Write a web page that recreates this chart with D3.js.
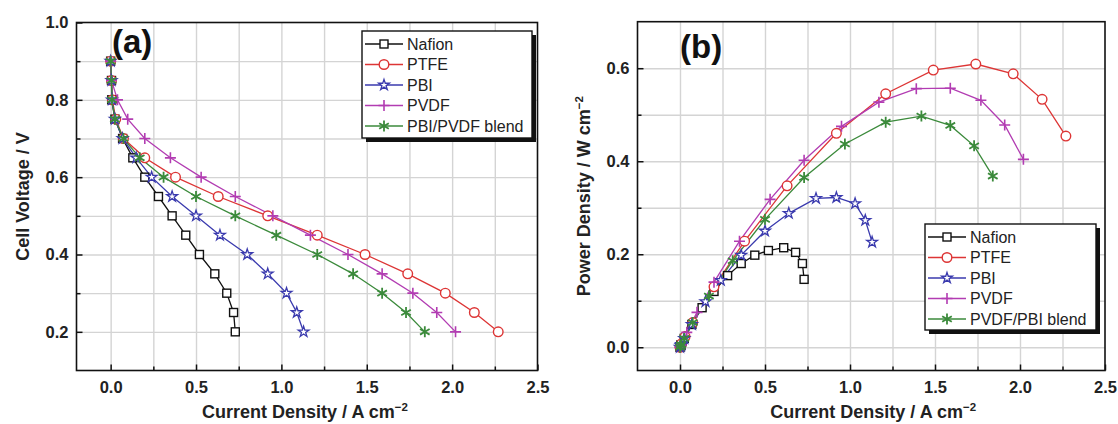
<!DOCTYPE html>
<html>
<head>
<meta charset="utf-8">
<script src="https://cdn.jsdelivr.net/npm/d3@7"></script>
<style>
  body { margin: 0; background: #fff; }
  text { font-family: "Liberation Sans", Arial, sans-serif; }
  .tick text { font-weight: bold; font-size: 16.5px; fill: #222; }
</style>
</head>
<body>
<div id="vis"></div>
<script>
// data
const voltage = [0.9, 0.85, 0.8, 0.75, 0.7, 0.65, 0.6, 0.55, 0.5, 0.45, 0.4, 0.35, 0.3, 0.25, 0.2];

const nafionCurrent = [0, 0.005, 0.006, 0.025, 0.07, 0.13, 0.2, 0.28, 0.36, 0.44, 0.52, 0.61, 0.68, 0.72, 0.73];
const ptfeCurrent   = [0, 0.005, 0.01, 0.03, 0.075, 0.2, 0.38, 0.63, 0.92, 1.21, 1.49, 1.74, 1.96, 2.13, 2.27];
const pbiCurrent    = [0, 0.005, 0.008, 0.025, 0.07, 0.15, 0.24, 0.36, 0.5, 0.64, 0.8, 0.92, 1.03, 1.09, 1.13];
const pvdfCurrent   = [0, 0.005, 0.04, 0.1, 0.2, 0.35, 0.53, 0.73, 0.95, 1.17, 1.39, 1.59, 1.77, 1.91, 2.02];
const blendCurrent  = [0, 0.005, 0.008, 0.025, 0.075, 0.17, 0.31, 0.5, 0.73, 0.97, 1.21, 1.42, 1.59, 1.73, 1.84];

const nafionPower = [0, 0.004, 0.005, 0.019, 0.049, 0.085, 0.12, 0.154, 0.18, 0.198, 0.208, 0.214, 0.204, 0.18, 0.146];
const ptfePower   = [0, 0.004, 0.008, 0.023, 0.053, 0.13, 0.228, 0.347, 0.46, 0.545, 0.596, 0.609, 0.588, 0.533, 0.454];
const pbiPower    = [0, 0.004, 0.006, 0.019, 0.049, 0.098, 0.144, 0.198, 0.25, 0.288, 0.32, 0.322, 0.309, 0.273, 0.226];
const pvdfPower   = [0, 0.004, 0.032, 0.075, 0.14, 0.228, 0.318, 0.402, 0.475, 0.527, 0.556, 0.557, 0.531, 0.478, 0.404];
const blendPower  = [0, 0.004, 0.006, 0.019, 0.053, 0.11, 0.186, 0.275, 0.365, 0.437, 0.484, 0.497, 0.477, 0.433, 0.368];

const legendNamesA = ["Nafion", "PTFE", "PBI", "PVDF", "PBI/PVDF blend"];
const legendNamesB = ["Nafion", "PTFE", "PBI", "PVDF", "PVDF/PBI blend"];

const xTicks = [0, 0.5, 1.0, 1.5, 2.0, 2.5];
const xMinor = [0.25, 0.75, 1.25, 1.75, 2.25];
const yTicksA = [0.2, 0.4, 0.6, 0.8, 1.0];
const yMinorA = [0.3, 0.5, 0.7, 0.9];
const yTicksB = [0.0, 0.2, 0.4, 0.6];
const yMinorB = [0.1, 0.3, 0.5];

const styles = [
    {color: "#111111", marker: "square"},
    {color: "#dd3535", marker: "circle"},
    {color: "#3a3aae", marker: "star"},
    {color: "#b23cb2", marker: "plus"},
    {color: "#3b8a3b", marker: "asterisk"}
];

const width = 1118;
const height = 424;

const svg = d3.select("#vis").append("svg")
    .attr("width", width)
    .attr("height", height);

function drawMarker(sel, kind, color) {
    if (kind === "square") {
        sel.append("rect").attr("x", -4).attr("y", -4).attr("width", 8).attr("height", 8)
            .attr("fill", "#fff").attr("stroke", color).attr("stroke-width", 1.4);
    } else if (kind === "circle") {
        sel.append("circle").attr("r", 4.8)
            .attr("fill", "#fff").attr("stroke", color).attr("stroke-width", 1.4);
    } else if (kind === "star") {
        sel.append("path").attr("d", d3.symbol().type(d3.symbolStar).size(36)())
            .attr("fill", "#fff").attr("stroke", color).attr("stroke-width", 1.3);
    } else if (kind === "plus") {
        sel.append("path").attr("d", "M-5.5,0H5.5M0,-5.5V5.5")
            .attr("stroke", color).attr("stroke-width", 1.6);
    } else {
        sel.append("path").attr("d", "M0,-5.5V5.5M-4.8,-2.8L4.8,2.8M-4.8,2.8L4.8,-2.8")
            .attr("stroke", color).attr("stroke-width", 1.8);
    }
}

function drawPanel(opt) {
    const g = svg.append("g");
    const x = d3.scaleLinear().domain(opt.xDomain).range(opt.xRange);
    const y = d3.scaleLinear().domain(opt.yDomain).range(opt.yRange);
    const [x0, x1] = opt.xRange;
    const [y0, y1] = opt.yRange; // y0 bottom, y1 top

    // grid
    g.append("g")
        .attr("transform", `translate(0,${y0})`)
        .call(d3.axisBottom(x).tickValues(xTicks.concat(xMinor).filter(v => v < 2.5)).tickSize(-(y0 - y1)).tickFormat(""))
        .call(a => a.select(".domain").remove())
        .call(a => a.selectAll("line").attr("stroke", "#d4d4d4").attr("stroke-width", 1.4));
    g.append("g")
        .attr("transform", `translate(${x0},0)`)
        .call(d3.axisLeft(y).tickValues(opt.yTicks.concat(opt.yMinor).filter(v => v < opt.yDomain[1])).tickSize(-(x1 - x0)).tickFormat(""))
        .call(a => a.select(".domain").remove())
        .call(a => a.selectAll("line").attr("stroke", "#d4d4d4").attr("stroke-width", 1.4));

    // series
    const line = d3.line().x(d => x(d[0])).y(d => y(d[1]));
    opt.series.forEach((s, i) => {
        const pts = s.xs.map((v, j) => [v, s.ys[j]]);
        g.append("path")
            .datum(pts)
            .attr("fill", "none")
            .attr("stroke", styles[i].color)
            .attr("stroke-width", 1.3)
            .attr("d", line);
    });
    opt.series.forEach((s, i) => {
        const pts = s.xs.map((v, j) => [v, s.ys[j]]);
        g.append("g").selectAll("g")
            .data(pts)
            .join("g")
            .attr("transform", d => `translate(${x(d[0])},${y(d[1])})`)
            .each(function() { drawMarker(d3.select(this), styles[i].marker, styles[i].color); });
    });

    // axes: major ticks inward with labels, minor inward without
    g.append("g")
        .attr("transform", `translate(0,${y0})`)
        .call(d3.axisBottom(x).tickValues(xTicks).tickSize(-6).tickPadding(11).tickFormat(d3.format(".1f")))
        .call(a => a.select(".domain").remove())
        .call(a => a.selectAll("line").attr("stroke", "#111").attr("stroke-width", 1.5));
    g.append("g")
        .attr("transform", `translate(0,${y0})`)
        .call(d3.axisBottom(x).tickValues(xMinor).tickSize(-4).tickFormat(""))
        .call(a => a.select(".domain").remove())
        .call(a => a.selectAll("line").attr("stroke", "#111").attr("stroke-width", 1.5));
    g.append("g")
        .attr("transform", `translate(${x0},0)`)
        .call(d3.axisLeft(y).tickValues(opt.yTicks).tickSize(-6).tickPadding(8).tickFormat(d3.format(".1f")))
        .call(a => a.select(".domain").remove())
        .call(a => a.selectAll("line").attr("stroke", "#111").attr("stroke-width", 1.5));
    g.append("g")
        .attr("transform", `translate(${x0},0)`)
        .call(d3.axisLeft(y).tickValues(opt.yMinor).tickSize(-4).tickFormat(""))
        .call(a => a.select(".domain").remove())
        .call(a => a.selectAll("line").attr("stroke", "#111").attr("stroke-width", 1.5));

    // frame
    g.append("rect")
        .attr("x", x0).attr("y", y1)
        .attr("width", x1 - x0).attr("height", y0 - y1)
        .attr("fill", "none").attr("stroke", "#111").attr("stroke-width", 1.6);

    // panel tag
    g.append("text")
        .attr("x", opt.tag[1]).attr("y", opt.tag[2])
        .attr("font-size", 33).attr("font-weight", "bold").attr("fill", "#111")
        .text(opt.tag[0]);

    // x title
    const xt = g.append("text")
        .attr("x", (x0 + x1) / 2 + opt.xTitleShift).attr("y", 418)
        .attr("text-anchor", "middle")
        .attr("font-size", 18).attr("font-weight", "bold").attr("fill", "#222");
    xt.append("tspan").text("Current Density / A cm");
    xt.append("tspan").attr("dy", -7).attr("font-size", 11.5).text("\u22122");

    // y title
    const yt = g.append("text")
        .attr("transform", `translate(${opt.yTitleX},${(y0 + y1) / 2}) rotate(-90)`)
        .attr("text-anchor", "middle")
        .attr("font-size", 18).attr("font-weight", "bold").attr("fill", "#222");
    yt.append("tspan").text(opt.yTitle[0]);
    if (opt.yTitle[1]) yt.append("tspan").attr("dy", -7).attr("font-size", 11.5).text(opt.yTitle[1]);

    // legend
    const [lx, ly, lw, lh] = opt.legendBox;
    const lg = g.append("g");
    lg.append("rect").attr("x", lx + 4).attr("y", ly + 4).attr("width", lw).attr("height", lh).attr("fill", "#111");
    lg.append("rect").attr("x", lx).attr("y", ly).attr("width", lw).attr("height", lh)
        .attr("fill", "#fff").attr("stroke", "#111").attr("stroke-width", 1.4);
    opt.legendNames.forEach((name, i) => {
        const ry = ly + 13 + i * 20.5;
        lg.append("line")
            .attr("x1", lx + 3).attr("x2", lx + 41).attr("y1", ry).attr("y2", ry)
            .attr("stroke", styles[i].color).attr("stroke-width", 1.3);
        const m = lg.append("g").attr("transform", `translate(${lx + 22},${ry})`);
        drawMarker(m, styles[i].marker, styles[i].color);
        lg.append("text")
            .attr("x", lx + 45).attr("y", ry + 5.5)
            .attr("font-size", 16).attr("fill", "#222")
            .text(name);
    });
}

drawPanel({
    xDomain: [-0.2, 2.5], xRange: [76.5, 537.5],
    yDomain: [0.1, 1.0], yRange: [370.5, 22.5],
    yTicks: yTicksA, yMinor: yMinorA,
    series: [
        {xs: nafionCurrent, ys: voltage},
        {xs: ptfeCurrent, ys: voltage},
        {xs: pbiCurrent, ys: voltage},
        {xs: pvdfCurrent, ys: voltage},
        {xs: blendCurrent, ys: voltage}
    ],
    tag: ["(a)", 112, 53],
    xTitleShift: -2,
    yTitle: ["Cell Voltage / V"], yTitleX: 29,
    legendBox: [362, 31, 170, 107],
    legendNames: legendNamesA
});

drawPanel({
    xDomain: [-0.25, 2.5], xRange: [637.5, 1105],
    yDomain: [-0.05, 0.7], yRange: [370.5, 21.7],
    yTicks: yTicksB, yMinor: yMinorB,
    series: [
        {xs: nafionCurrent, ys: nafionPower},
        {xs: ptfeCurrent, ys: ptfePower},
        {xs: pbiCurrent, ys: pbiPower},
        {xs: pvdfCurrent, ys: pvdfPower},
        {xs: blendCurrent, ys: blendPower}
    ],
    tag: ["(b)", 680, 58],
    xTitleShift: 2,
    yTitle: ["Power Density / W cm", "\u22122"], yTitleX: 590,
    legendBox: [925, 224, 171, 106],
    legendNames: legendNamesB
});
</script>
</body>
</html>
